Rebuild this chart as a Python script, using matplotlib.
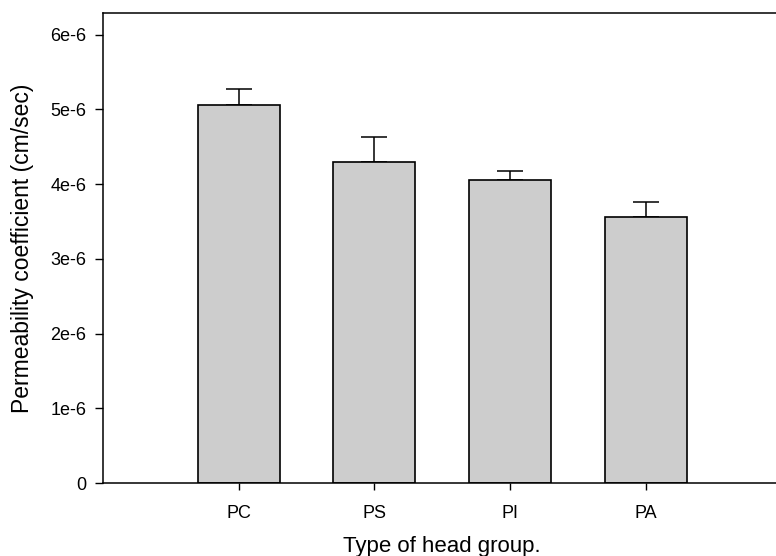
import matplotlib
matplotlib.use("Agg")
from matplotlib import pyplot as plt
import numpy as np

groups = ["PC", "PS", "PI", "PA"]
perm = [5.06e-6, 4.30e-6, 4.06e-6, 3.56e-6]      # bar heights
perm_err = [0.21e-6, 0.33e-6, 0.12e-6, 0.20e-6]  # upper error only
yticks = [0, 1e-6, 2e-6, 3e-6, 4e-6, 5e-6, 6e-6]
ytick_labels = ["0", "1e-6", "2e-6", "3e-6", "4e-6", "5e-6", "6e-6"]

plt.rcParams["font.family"] = ["Liberation Sans", "DejaVu Sans"]

fig = plt.figure(figsize=(7.76, 5.56), dpi=100)
ax = fig.add_axes([103 / 776, 73 / 556, (781.5 - 103) / 776, (483 - 13) / 556])

x = np.arange(len(groups))
ax.bar(x, perm, width=0.605, color="#cdcdcd", edgecolor="black", linewidth=1.2, zorder=2)
ax.errorbar(x, perm, yerr=[np.zeros(len(perm)), perm_err], fmt="none",
            ecolor="black", elinewidth=1.1, capsize=9.5, capthick=1.1, zorder=1)

ax.set_xlim(-1, 4)
ax.set_ylim(0, 6.29e-6)
ax.set_xticks(x)
ax.set_xticklabels(groups, fontsize=13)
ax.set_yticks(yticks)
ax.set_yticklabels(ytick_labels, fontsize=13)

ax.tick_params(axis="y", direction="out", length=6, width=1, pad=6)
ax.tick_params(axis="x", direction="out", length=5, width=1, pad=11)

for s in ["left", "bottom", "top"]:
    ax.spines[s].set_linewidth(1.1)
ax.spines["right"].set_visible(False)

ax.set_xlabel("Type of head group.", fontsize=16, labelpad=10)
ax.set_ylabel("Permeability coefficient (cm/sec)", fontsize=16.5, labelpad=12)

fig.savefig("out.png", dpi=100)
